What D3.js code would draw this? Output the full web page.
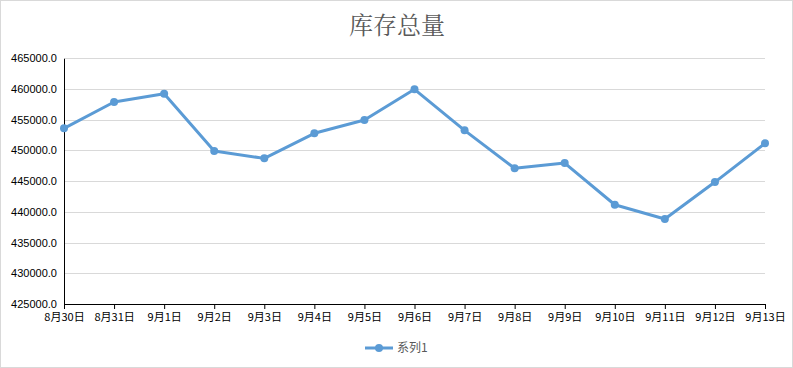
<!DOCTYPE html>
<html><head><meta charset="utf-8">
<script src="https://cdn.jsdelivr.net/npm/d3@7/dist/d3.min.js"></script>
<style>
html,body{margin:0;padding:0;background:#fff;}
svg{display:block;}
</style>
</head><body>
<script>
const categories = ["8月30日","8月31日","9月1日","9月2日","9月3日","9月4日","9月5日","9月6日","9月7日","9月8日","9月9日","9月10日","9月11日","9月12日","9月13日"];
const values = [453600, 457880, 459230, 449900, 448710, 452790, 454950, 459950, 453270, 447090, 447950, 441160, 438830, 444850, 451160];
const yTicks = [425000, 430000, 435000, 440000, 445000, 450000, 455000, 460000, 465000];
const seriesName = "系列1";
const title = "库存总量";

const W = 793, H = 368;
const m = {left: 64, right: 28, top: 58.3, bottom: 64};
const svg = d3.select("body").append("svg").attr("width", W).attr("height", H);

svg.append("rect").attr("x",0.5).attr("y",0.5).attr("width",W-1).attr("height",H-1)
  .attr("fill","#fff").attr("stroke","#d9d9d9");

const x = d3.scalePoint().domain(categories).range([m.left, W - m.right]);
const y = d3.scaleLinear().domain([425000, 465000]).range([H - m.bottom, m.top]);

svg.append("text").attr("x", 397).attr("y", 34).attr("text-anchor","middle")
  .attr("font-family","'Noto Serif CJK SC','Noto Sans CJK SC',serif").attr("font-size",24)
  .attr("fill","#595959").text(title);

// grid
svg.append("g").selectAll("line").data(yTicks.slice(1)).join("line")
  .attr("x1", m.left).attr("x2", W - m.right)
  .attr("y1", d => Math.round(y(d)) + 0.5).attr("y2", d => Math.round(y(d)) + 0.5)
  .attr("stroke","#d9d9d9").attr("stroke-width",1);

// y axis
const yAxis = svg.append("g").attr("transform",`translate(${m.left},0)`)
  .call(d3.axisLeft(y).tickValues(yTicks).tickFormat(d => d.toFixed(1)).tickSize(0).tickPadding(7));
yAxis.select(".domain").attr("stroke","#000");
yAxis.selectAll("text").attr("font-family","'Liberation Sans',Arial,sans-serif").attr("font-size",11).attr("fill","#000");

// x axis
const xAxis = svg.append("g").attr("transform",`translate(0,${H - m.bottom})`)
  .call(d3.axisBottom(x).tickSize(5).tickSizeOuter(0).tickPadding(4));
xAxis.select(".domain").attr("stroke","#000");
xAxis.selectAll(".tick line").attr("stroke","#000");
xAxis.selectAll("text").attr("font-family","'Noto Sans CJK SC',sans-serif").attr("font-size",11).attr("fill","#000");

const color = "#5b9bd5";
const line = d3.line().x((d,i) => x(categories[i])).y(d => y(d));
svg.append("path").datum(values).attr("d", line).attr("fill","none")
  .attr("stroke", color).attr("stroke-width", 3).attr("stroke-linejoin","round");
svg.append("g").selectAll("circle").data(values).join("circle")
  .attr("cx",(d,i) => x(categories[i])).attr("cy", d => y(d)).attr("r",4).attr("fill",color);

// legend
const lg = svg.append("g").attr("transform","translate(365,348)");
lg.append("line").attr("x1",0).attr("x2",28).attr("y1",0).attr("y2",0).attr("stroke",color).attr("stroke-width",3);
lg.append("circle").attr("cx",14).attr("cy",0).attr("r",4).attr("fill",color);
lg.append("text").attr("x",32).attr("y",4).attr("font-family","'Noto Sans CJK SC',sans-serif")
  .attr("font-size",12).attr("fill","#595959").text(seriesName);
</script>
</body></html>
